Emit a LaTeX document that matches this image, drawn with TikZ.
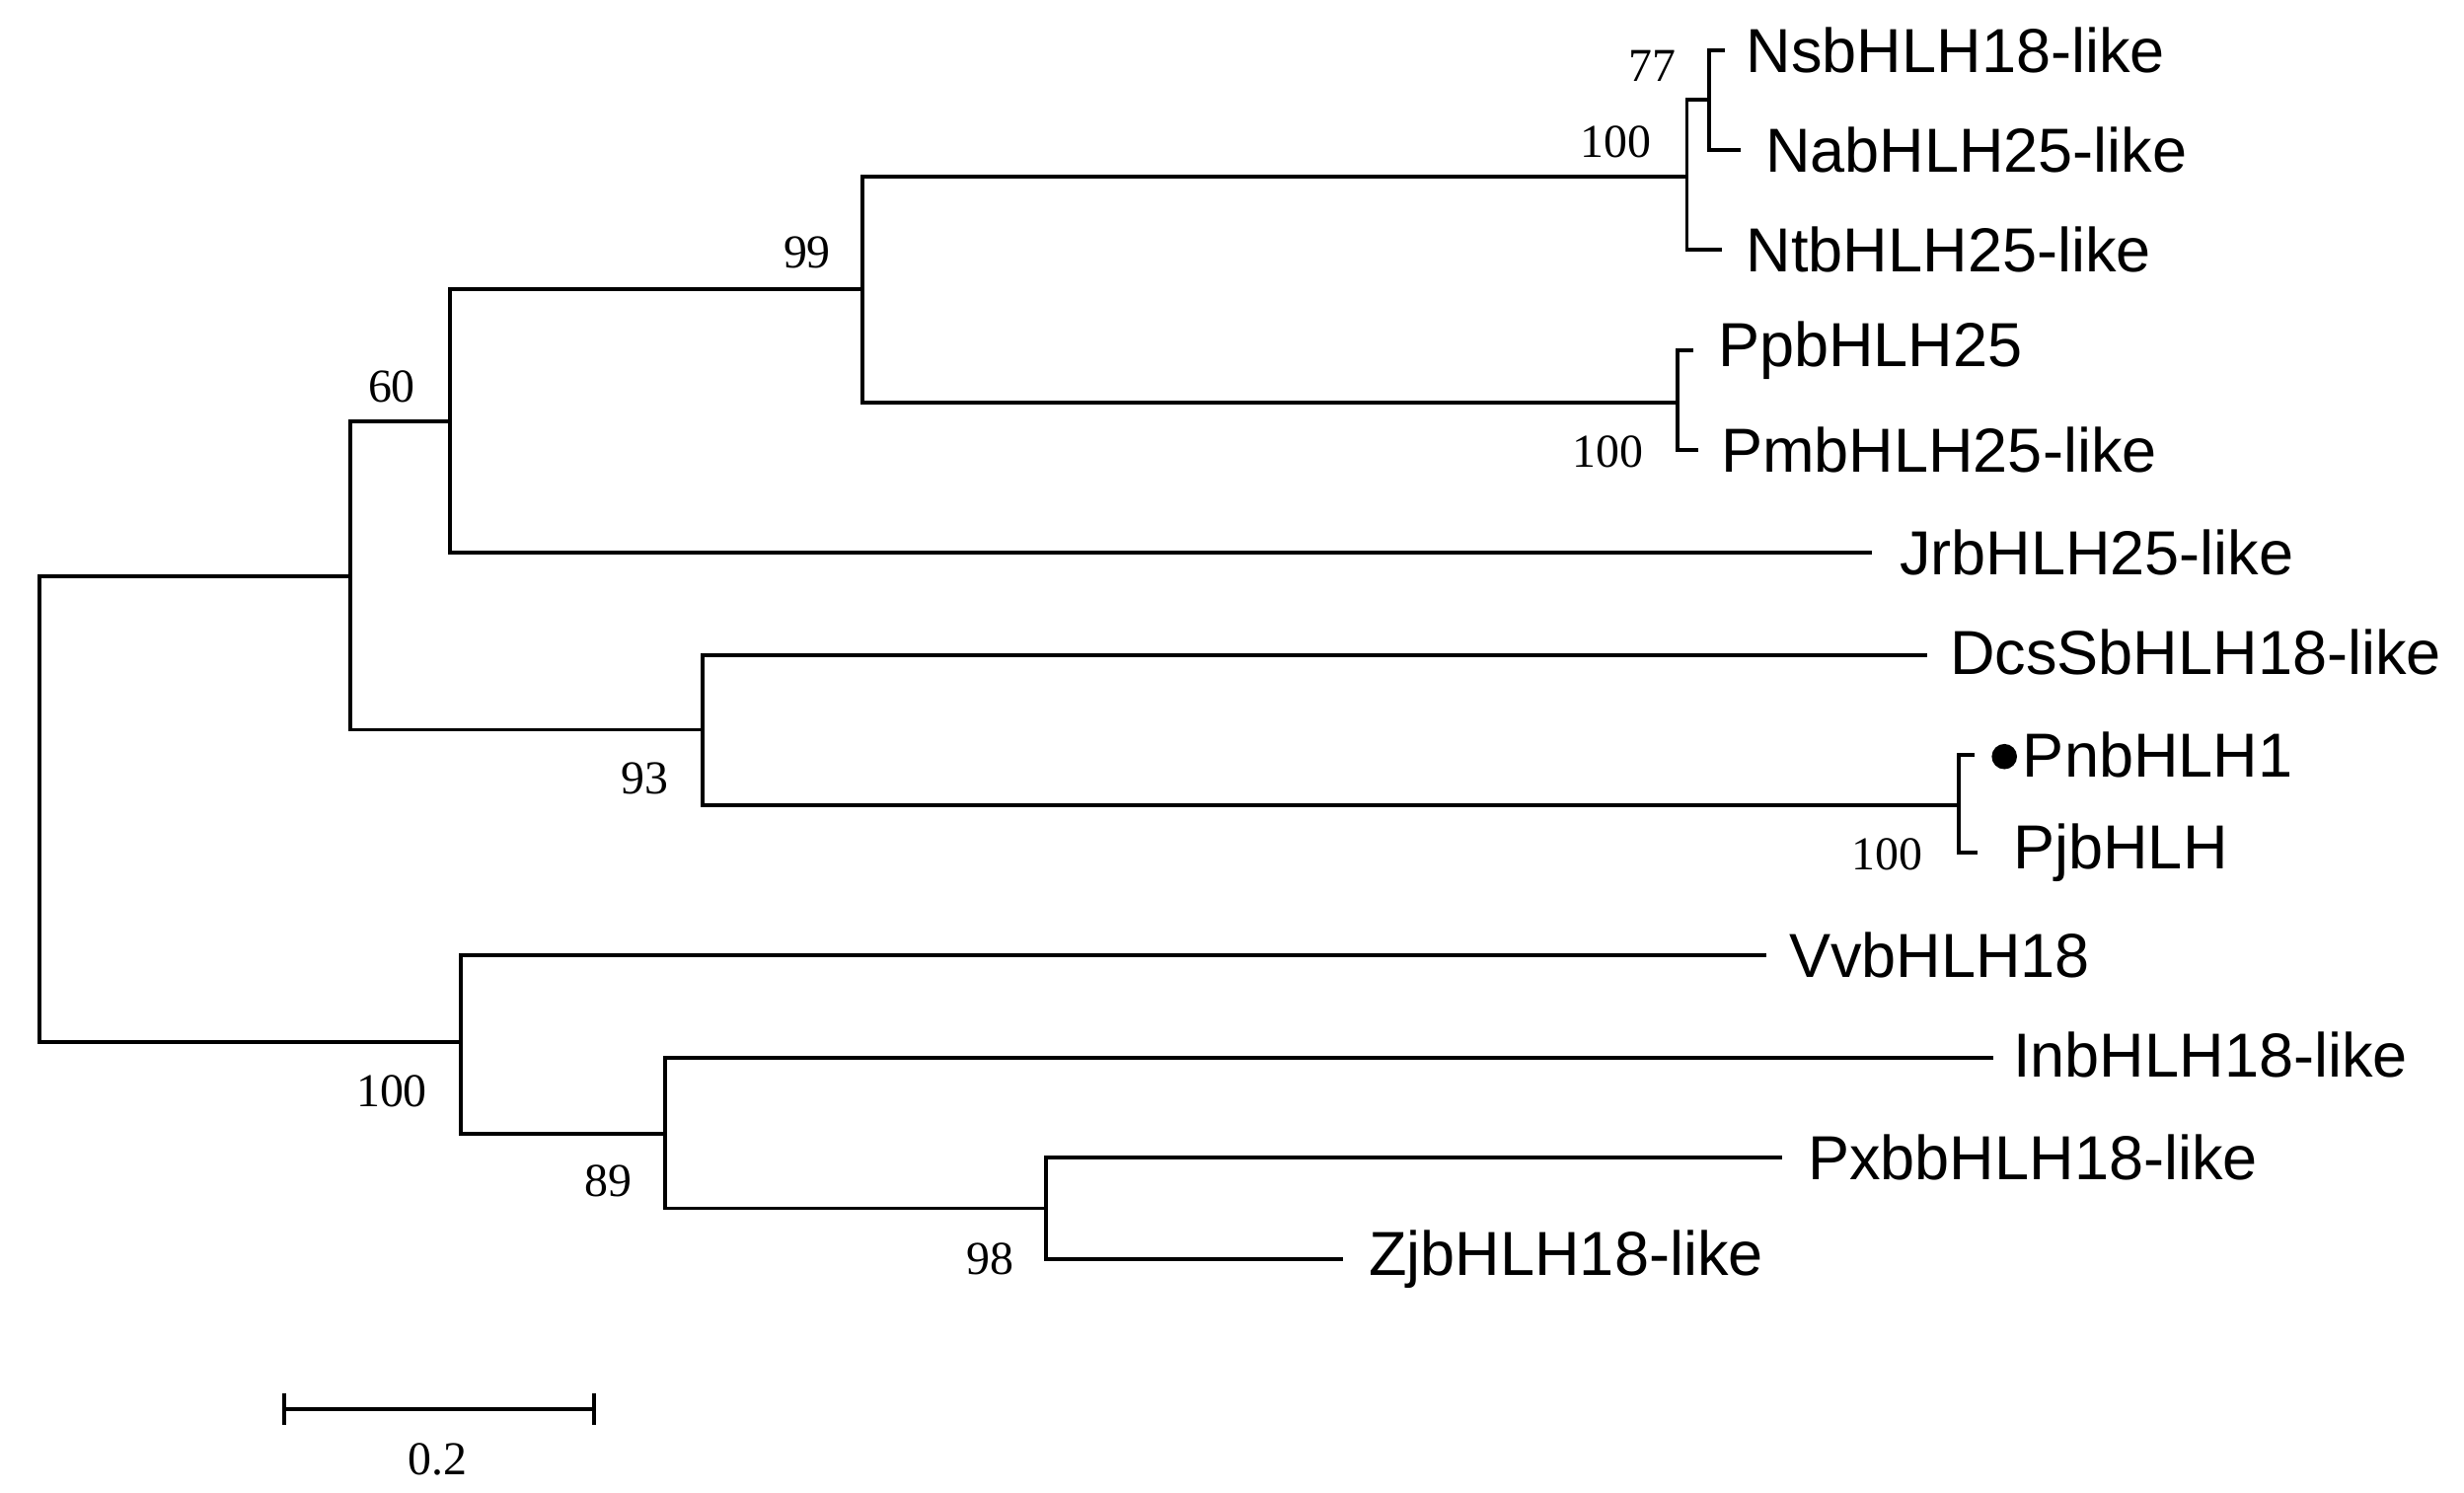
\documentclass[tikz,border=0pt]{standalone}
\usepackage{fontspec}
\setmainfont{Liberation Sans}
\newfontfamily\bsfont{Liberation Serif}
\begin{document}
\begin{tikzpicture}[x=0.01cm,y=-0.01cm,
  br/.style={line width=0.7pt},
  leaf/.style={anchor=west,inner sep=0pt,font=\fontsize{11.2}{13}\selectfont},
  bs/.style={inner sep=0pt,font=\bsfont\fontsize{8.5}{10}\selectfont}]
\useasboundingbox (0,0) rectangle (1560,945);
% leaves
\node[leaf] (ns) at (1105,32) {NsbHLH18-like};
\node[leaf] (na) at (1117,95) {NabHLH25-like};
\node[leaf] (nt) at (1105,158) {NtbHLH25-like};
\node[leaf] (pp) at (1087,222) {PpbHLH25};
\node[leaf] (pm) at (1089,285) {PmbHLH25-like};
\node[leaf] (jr) at (1202,350) {JrbHLH25-like};
\node[leaf] (dc) at (1234,413) {DcsSbHLH18-like};
\node[leaf] (pn) at (1280,478) {PnbHLH1};
\node[leaf] (pj) at (1274,540) {PjbHLH};
\node[leaf] (vv) at (1132,605) {VvbHLH18};
\node[leaf] (in) at (1274,668) {InbHLH18-like};
\node[leaf] (px) at (1144,733) {PxbbHLH18-like};
\node[leaf] (zj) at (866,797) {ZjbHLH18-like};
\fill (1269,479) circle (8);
% internal coordinates
\coordinate (n77) at (1082,63);
\coordinate (n100a) at (1068,112);
\coordinate (n100b) at (1062,255);
\coordinate (n99) at (546,183);
\coordinate (n60) at (285,267);
\coordinate (n100c) at (1240,510);
\coordinate (n93) at (445,462);
\coordinate (nup) at (222,365);
\coordinate (n98) at (662,765);
\coordinate (n89) at (421,718);
\coordinate (n100d) at (292,660);
\begin{scope}[br]
\draw (1092,32) -| (n77) |- (1102,95);
\draw (n77) -| (n100a) |- (1090,158);
\draw (1072,222) -| (n100b) |- (1075,285);
\draw (n100a) -| (n99) |- (n100b);
\draw (n99) -| (n60) |- (1185,350);
\draw (1250,478) -| (n100c) |- (1252,540);
\draw (1220,415) -| (n93) |- (n100c);
\draw (n60) -| (nup) |- (n93);
\draw (1128,733) -| (n98) |- (850,797);
\draw (1262,670) -| (n89) |- (n98);
\draw (1118,605) -| (n100d) |- (n89);
\draw (nup) -| (25,512) |- (n100d);
\end{scope}
% bootstrap labels
\node[bs] (b77) at (1046,42) {77};
\node[bs] (b100a) at (1023,90) {100};
\node[bs] (b99) at (511,160) {99};
\node[bs] (b60) at (248,245) {60};
\node[bs] (b100b) at (1018,286) {100};
\node[bs] (b93) at (408,493) {93};
\node[bs] (b100c) at (1195,541) {100};
\node[bs] (b100d) at (248,691) {100};
\node[bs] (b89) at (385,748) {89};
\node[bs] (b98) at (627,797) {98};
% scale bar
\draw[br] (180,892) -- (376,892);
\draw[br] (180,882) -- (180,902);
\draw[br] (376,882) -- (376,902);
\node[bs] (sc) at (277,924) {0.2};
\end{tikzpicture}
\end{document}
